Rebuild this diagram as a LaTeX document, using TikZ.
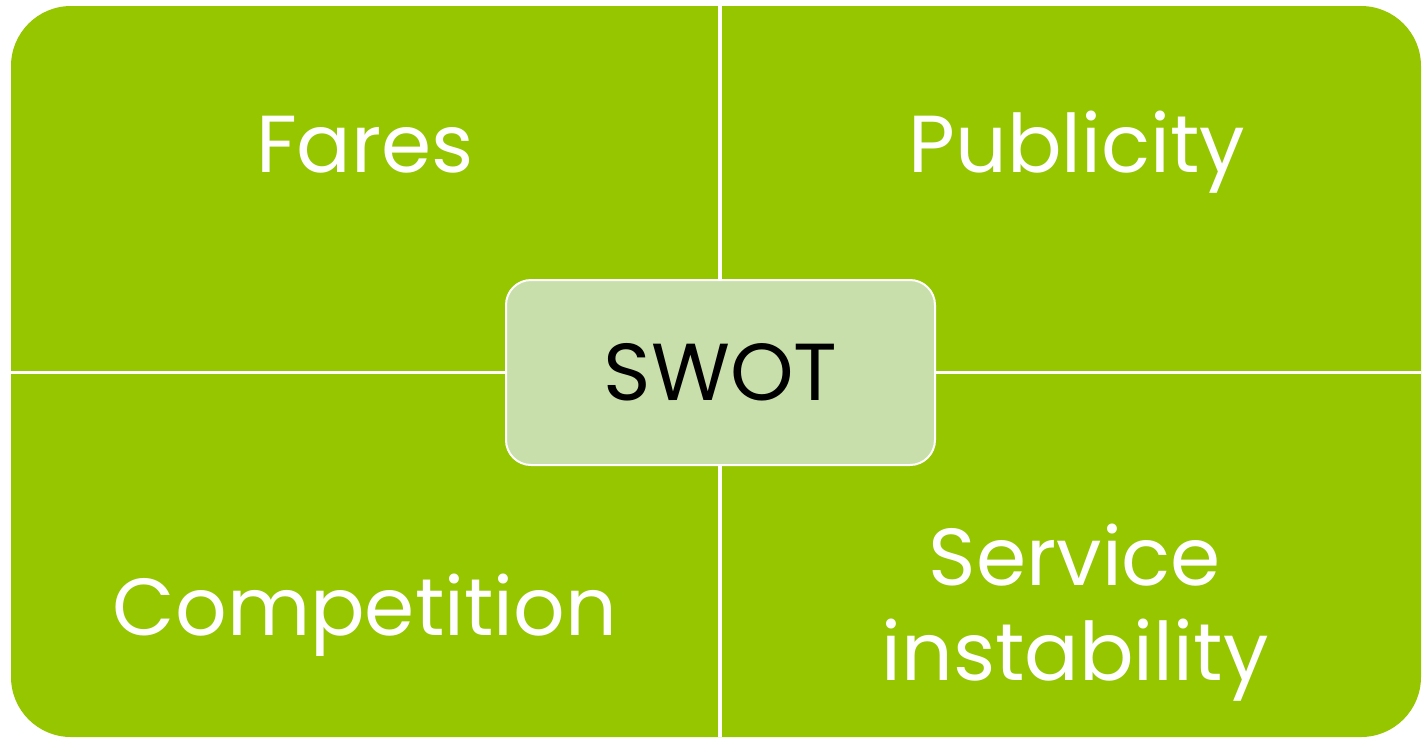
\documentclass[tikz,border=0pt]{standalone}
\usepackage{fontspec}
\setmainfont{Poppins}
\usetikzlibrary{positioning}
\definecolor{swotgreen}{RGB}{149,198,0}
\definecolor{swotlight}{RGB}{201,223,171}

\begin{document}
\begin{tikzpicture}[
	font=\fontsize{23}{27}\selectfont,
	feld/.style={
	text=white,anchor=base,
	},
	trenner/.style={
	draw=white,line width=0.035cm,
	}
	]

\useasboundingbox (0,0) rectangle (14.22,-7.38);

\fill[swotgreen, rounded corners=0.6cm] (0.11,-0.06) rectangle (14.21,-7.37);
\coordinate (oben) at (7.20,-0.06);
\coordinate (unten) at (7.20,-7.37);
\coordinate (links) at (0.11,-3.725);
\coordinate (rechts) at (14.21,-3.725);
\draw[trenner] (oben) -- (unten);
\draw[trenner] (links) -- (rechts);

\node[feld] (fares) at (3.65,-1.72) {Fares};
\node[feld] (publicity) at (10.77,-1.72) {Publicity};
\node[feld] (competition) at (3.65,-6.35) {Competition};
\node[feld, anchor=center, align=center] (service) at (10.75,-6.13) {Service\\instability};

\node[draw=white, line width=0.02cm, fill=swotlight, rounded corners=0.25cm,
	minimum width=4.29cm, minimum height=1.85cm] (swot) at (7.205,-3.725) {SWOT};

  \end{tikzpicture}
\end{document}
